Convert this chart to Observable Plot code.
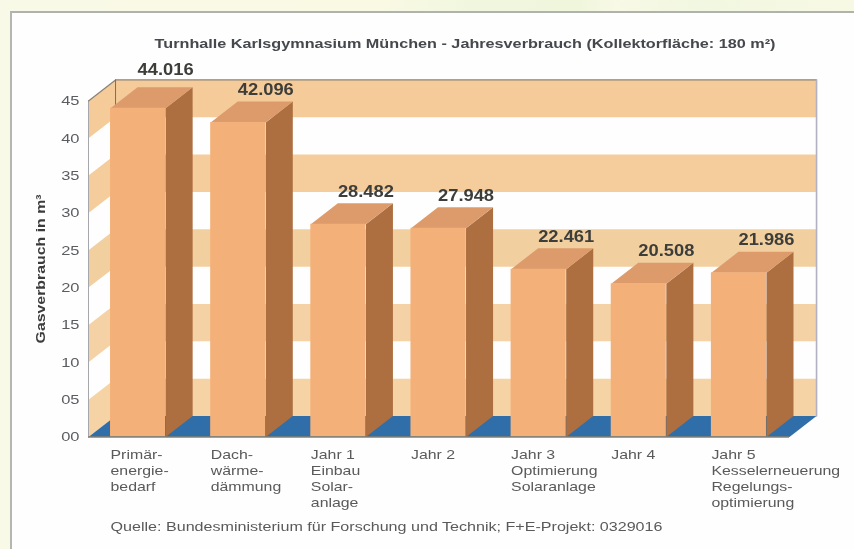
<!DOCTYPE html>
<html lang="de">
<head>
<meta charset="utf-8">
<script src="https://cdn.jsdelivr.net/npm/d3@7"></script>
<script src="https://cdn.jsdelivr.net/npm/@observablehq/plot@0.6"></script>
<style>
  html, body { margin: 0; padding: 0; width: 854px; height: 549px; overflow: hidden; background: #f9f9e8; font-family: "Liberation Sans", Arial, sans-serif; }
  body { background: linear-gradient(90deg, #f9f9e8 0, #f9f9e4 45%, #f1f7df 55%, #f0f6dc 68%, #f8f9e6 72%, #f1f7e0 82%, #f8f9e4 100%); }
  #panel { position: absolute; left: 0; top: 11px; right: 0; bottom: 0; background: #f9f9e8; }
  #panel div { position: absolute; left: 10px; top: 0; right: 0; bottom: 0; background: #fefefe; border-left: 2px solid #b4b6b0; border-top: 2px solid #b0b2ae; }
  #chart { position: absolute; left: 0; top: 0; }
  #chart svg { display: block; background: transparent; filter: blur(0.6px); }
</style>
</head>
<body>
<div id="panel"><div></div></div>
<div id="chart"></div>
<script>
// Data
const categories = [
  "Primär-\nenergie-\nbedarf",
  "Dach-\nwärme-\ndämmung",
  "Jahr 1\nEinbau\nSolar-\nanlage",
  "Jahr 2",
  "Jahr 3\nOptimierung\nSolaranlage",
  "Jahr 4",
  "Jahr 5\nKesselerneuerung\nRegelungs-\noptimierung"
];
const values = [44.016, 42.096, 28.482, 27.948, 22.461, 20.508, 21.986];
const yTicks = [0, 5, 10, 15, 20, 25, 30, 35, 40, 45];
const bandStarts = [0, 10, 20, 30, 40];
const bandColors = ["#f6d3a4", "#f5d2a6", "#f2cf9f", "#f5cd9c", "#f4cb99"];

const titleText = "Turnhalle Karlsgymnasium München - Jahresverbrauch (Kollektorfläche: 180 m²)";
const yLabelText = "Gasverbrauch in m³";
const sourceText = "Quelle: Bundesministerium für Forschung und Technik; F+E-Projekt: 0329016";

// Chart geometry in scale units (one x unit is one category slot)
const depthX = 0.27, depthY = 2.81, barStart = 0.22, barWidth = 0.55, yMax = 45, slots = categories.length;

const bars = values.map((v, i) => ({i, v, x1: i + barStart, x2: i + barStart + barWidth, label: categories[i]}));

const poly = (id, fill, pts) => pts.map(([x, y]) => ({id, fill, x, y}));
const polyMark = (rows, extra = {}) => Plot.line(rows, {x: "x", y: "y", z: "id", fill: "fill", stroke: "none", ...extra});

const wall = [
  ...bandStarts.flatMap((b, k) => [
    ...poly("back" + k, bandColors[k], [[depthX, b + depthY], [slots + depthX, b + depthY], [slots + depthX, b + 5 + depthY], [depthX, b + 5 + depthY]]),
    ...poly("side" + k, bandColors[k], [[0, b], [depthX, b + depthY], [depthX, b + 5 + depthY], [0, b + 5]])
  ]),
  ...poly("floor", "#2f6ea9", [[0, 0], [depthX, depthY], [slots + depthX, depthY], [slots, 0]])
];
const sides = bars.flatMap(d => poly("s" + d.i, "#ad6f40", [[d.x2, 0], [d.x2 + depthX, depthY], [d.x2 + depthX, d.v + depthY], [d.x2, d.v]]));
const tops = bars.flatMap(d => poly("t" + d.i, "#dd9b6b", [[d.x1, d.v], [d.x1 + depthX, d.v + depthY], [d.x2 + depthX, d.v + depthY], [d.x2, d.v]]));

const leftEdge = [[0, 0], [0, yMax]].map(([x, y]) => ({x, y}));
const topEdge = [[0, yMax], [depthX, yMax + depthY], [slots + depthX, yMax + depthY]].map(([x, y]) => ({x, y}));
const rightEdge = [[slots + depthX, yMax + depthY], [slots + depthX, depthY]].map(([x, y]) => ({x, y}));

const plot = Plot.plot({
  width: 854,
  height: 549,
  marginLeft: 88,
  marginRight: 65,
  marginTop: 100.4,
  marginBottom: 112.5,
  style: {background: "transparent", fontFamily: "'Liberation Sans', Arial, sans-serif"},
  x: {domain: [0, slots], axis: null},
  y: {domain: [0, yMax], axis: null},
  marks: [
    polyMark(wall),
    Plot.line(leftEdge, {x: "x", y: "y", stroke: "#a5a7ad", strokeWidth: 1}),
    Plot.line(topEdge, {x: "x", y: "y", stroke: "#8c8378", strokeWidth: 1.3}),
    Plot.line(rightEdge, {x: "x", y: "y", stroke: "#b0b2c2", strokeWidth: 1.6}),
    Plot.ruleX([depthX], {y1: 41, y2: yMax + depthY, stroke: "#77705f", strokeWidth: 1}),
    polyMark(sides),
    polyMark(tops),
    Plot.rect(bars, {x1: "x1", x2: "x2", y1: 0, y2: "v", fill: "#f4b079"}),
    Plot.ruleY([0], {x1: 0, x2: slots, stroke: "#86806f", strokeWidth: 1.5}),
    Plot.axisY({ticks: yTicks, tickSize: 0, tickPadding: 9, tickFormat: d3.format("02d"), label: null, fontSize: 13.5, color: "#5b5d60"}),
    Plot.text([yLabelText], {frameAnchor: "left", dx: -48, rotate: -90, textAnchor: "middle", fontWeight: "bold", fontSize: 13, fill: "#3c3c3c"}),
    Plot.text([titleText], {x: 3.76, y: yMax, dy: -57, fontWeight: "bold", fontSize: 13.5, fill: "#45484d", className: "wide-title"}),
    Plot.text(bars, {
      x: "x2", y: d => d.v + depthY + (d.i === 0 ? 0.7 : 0), dy: -12,
      text: d => d3.format(".3f")(d.v),
      fontWeight: "bold", fontSize: 16.5, fill: "#3d3d3a", className: "wide-value"
    }),
    Plot.text(bars, {x: "x1", y: 0, dy: 11, text: "label", textAnchor: "start", lineAnchor: "top", lineHeight: 1.23, fontSize: 13, fill: "#5a5a5a"}),
    Plot.text([sourceText], {x: barStart, y: 0, dy: 90, textAnchor: "start", fontSize: 13.2, fill: "#5a5a5a"})
  ]
});
document.getElementById("chart").append(plot);

// The reference's glyphs are stretched sideways: widen each text run, keeping it real text
const stretchFor = t => t.closest(".wide-title") ? 1.2 : t.closest(".wide-value") ? 1.11 : 1.22;
plot.querySelectorAll("text").forEach(t => {
  const runs = t.querySelectorAll("tspan");
  (runs.length ? [...runs] : [t]).forEach(el => {
    el.setAttribute("textLength", el.getComputedTextLength() * stretchFor(t));
    el.setAttribute("lengthAdjust", "spacingAndGlyphs");
  });
});
</script>
</body>
</html>
